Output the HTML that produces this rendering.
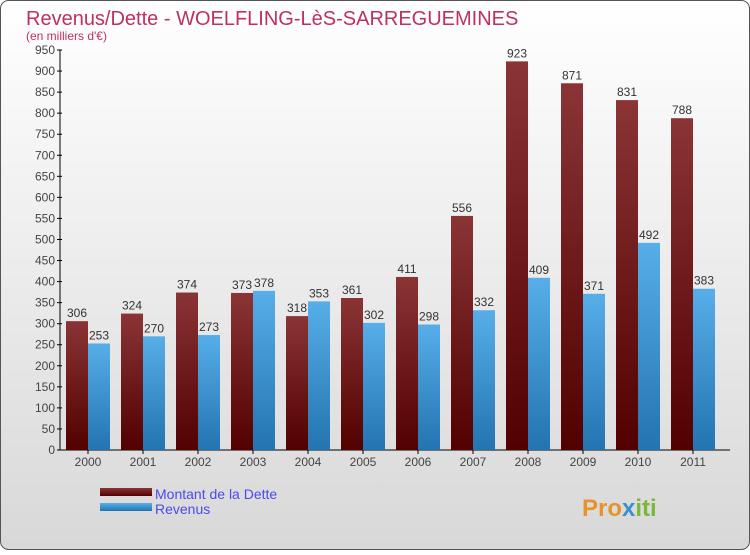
<!DOCTYPE html>
<html><head><meta charset="utf-8"><style>
body{margin:0;}
#wrap{width:750px;height:550px;position:relative;font-family:"Liberation Sans",sans-serif;}
</style></head><body>
<div id="wrap">
<svg id="chart" width="750" height="550" xmlns="http://www.w3.org/2000/svg">
<defs>
<linearGradient id="bg" x1="0" y1="0" x2="0" y2="1"><stop offset="0" stop-color="#ffffff"/><stop offset="1" stop-color="#d8d8d8"/></linearGradient>
<linearGradient id="gD" x1="0" y1="0" x2="0" y2="1"><stop offset="0" stop-color="#8a3436"/><stop offset="1" stop-color="#520000"/></linearGradient>
<linearGradient id="gR" x1="0" y1="0" x2="0" y2="1"><stop offset="0" stop-color="#57aee8"/><stop offset="1" stop-color="#2374b0"/></linearGradient>
</defs>
<rect x="0.5" y="0.5" width="749" height="549" rx="8" fill="url(#bg)" stroke="#555"/>
<text x="26" y="25" font-size="20" fill="#c0305f">Revenus/Dette - WOELFLING-LèS-SARREGUEMINES</text>
<text x="26" y="40" font-size="12" fill="#c0305f">(en milliers d'€)</text>
<g id="axes"></g>
<g id="bars"></g>
<rect x="100" y="488" width="52" height="8" fill="url(#gD)"/>
<text x="155" y="499" font-size="14" fill="#4a4af0">Montant de la Dette</text>
<rect x="100" y="503" width="52" height="8" fill="url(#gR)"/>
<text x="155" y="514" font-size="14" fill="#4a4af0">Revenus</text>
<text x="582" y="516" font-size="24" font-weight="bold" fill="#e8922a">Pro<tspan fill="#3a8fd0">x</tspan><tspan fill="#7ab83a">iti</tspan></text>
</svg>
</div>
<script>
const years=["2000","2001","2002","2003","2004","2005","2006","2007","2008","2009","2010","2011"];
const dette=[306,324,374,373,318,361,411,556,923,871,831,788];
const revenus=[253,270,273,378,353,302,298,332,409,371,492,383];
const yTicks=[0,50,100,150,200,250,300,350,400,450,500,550,600,650,700,750,800,850,900,950];
const NS="http://www.w3.org/2000/svg";
const y0=450,yTop=50,yMax=950;
function y(v){return y0-(v/yMax)*(y0-yTop);}
function xg(i){return 66+i*55;}
function mk(tag,attrs,parent){const e=document.createElementNS(NS,tag);for(const k in attrs)e.setAttribute(k,attrs[k]);parent.appendChild(e);return e;}
const axes=document.getElementById('axes'),bars=document.getElementById('bars');
let l=mk('line',{x1:60,y1:y0,x2:60,y2:yTop,stroke:'#000'},axes);


l=mk('line',{x1:60,y1:y0,x2:730,y2:y0,stroke:'#000'},axes);


yTicks.forEach(v=>{
 const t=mk('line',{x1:57,y1:y(v),x2:62,y2:y(v),stroke:'#000'},axes);
 
 
 const tx=mk('text',{x:55,y:y(v)+4,'font-size':12,fill:'#444','text-anchor':'end'},axes);
 tx.textContent=v;
 
 
});
years.forEach((yr,i)=>{
 const x=xg(i);
 const tx=mk('text',{x:x+22,y:466,'font-size':12,fill:'#444','text-anchor':'middle'},axes);
 tx.textContent=yr;
 
 
 const t=mk('line',{x1:x+22,y1:y0,x2:x+22,y2:y0+4,stroke:'#000'},axes);
 
 
 const b1=mk('rect',{x:x,y:y(dette[i]),width:22,height:y0-y(dette[i]),fill:'url(#gD)'},bars);
 
 
 const b2=mk('rect',{x:x+22,y:y(revenus[i]),width:22,height:y0-y(revenus[i]),fill:'url(#gR)'},bars);
 
 
 const v1=mk('text',{x:x+11,y:y(dette[i])-4,'font-size':12,fill:'#333','text-anchor':'middle'},bars);
 v1.textContent=dette[i];
 
 
 const v2=mk('text',{x:x+33,y:y(revenus[i])-4,'font-size':12,fill:'#333','text-anchor':'middle'},bars);
 v2.textContent=revenus[i];
 
 
});
</script>
</body></html>
